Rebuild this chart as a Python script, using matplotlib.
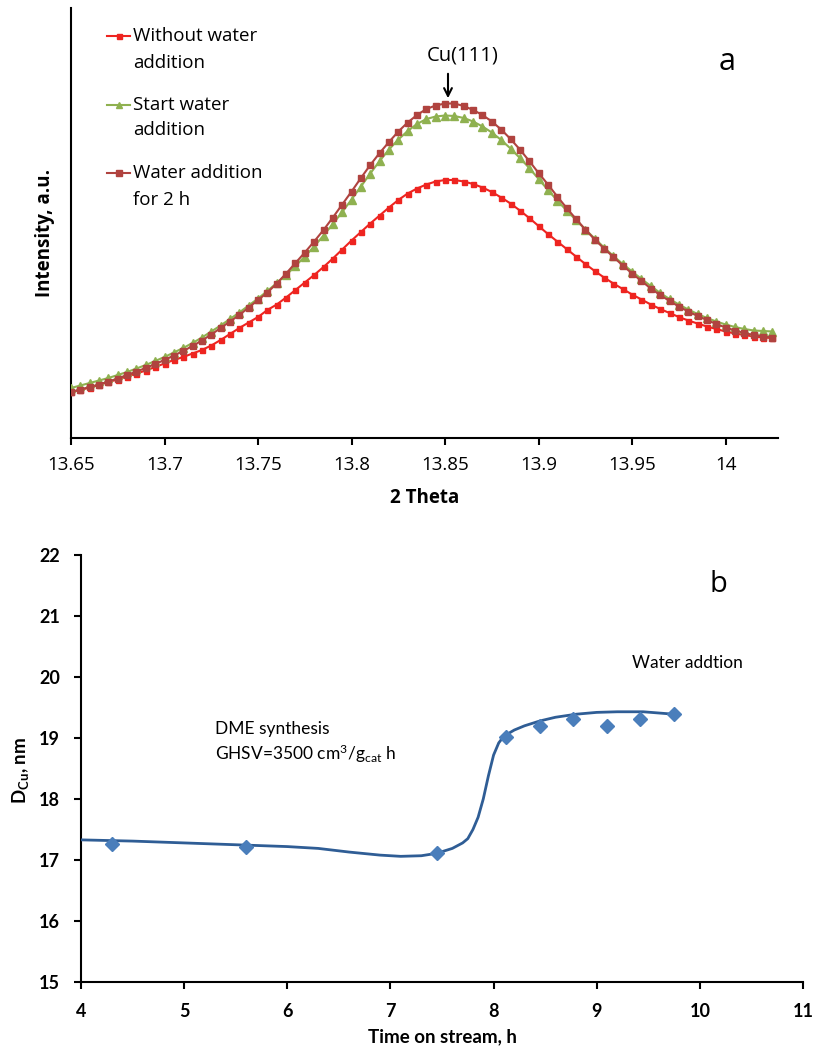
import matplotlib
matplotlib.use("Agg")
import matplotlib.pyplot as plt
from matplotlib.lines import Line2D
import numpy as np

# ---------------- data: panel a ----------------
two_theta = np.round(13.65 + 0.005 * np.arange(76), 3)

without_water = [46, 48, 50.5, 53, 56, 58.5, 61.5, 64.5, 67.5, 71,
                 74.5, 78, 81, 84.5, 88, 92.5, 98, 104, 110, 115.5,
                 121, 128, 133.5, 140.5, 148, 155.5, 163, 171, 179.5, 188.5,
                 197.5, 206, 214.5, 222.5, 230.5, 238, 244.5, 249.5, 253.5, 256.5,
                 258, 258, 256.5, 254, 250.5, 246, 240.5, 234.5, 227.5, 220,
                 212, 204, 196.5, 189, 181.5, 174, 167, 160.5, 154.5, 149,
                 143.5, 138.5, 133.5, 129, 125, 121, 117.5, 114.5, 111.5, 109,
                 106.5, 104.5, 103, 101.5, 100.5, 100]

start_water = [50, 52.5, 55, 57.5, 60, 63, 66, 69.5, 73, 77,
               81, 85.5, 90, 95, 100.5, 106.5, 112.5, 119, 125.5, 132.5,
               139.5, 147, 155, 163, 172, 181.5, 191.5, 202.5, 214, 226,
               238.5, 251.5, 264.5, 277, 288.5, 298.5, 307, 314, 319, 321.5,
               322.5, 322, 320, 316.5, 311.5, 305.5, 298, 289.5, 280, 270,
               259, 248, 237.5, 227.5, 218, 208.5, 199.5, 190.5, 182, 174,
               166.5, 159, 152, 145, 139, 133.5, 128.5, 124, 120, 116.5,
               113.5, 111, 109, 107.5, 107, 106.5]

water_2h = [46, 48.5, 51, 53.5, 56.5, 59.5, 63, 66.5, 70, 74,
            78, 82.5, 87, 92, 97.5, 103.5, 110, 116.5, 123, 130.5,
            138, 145.5, 154.5, 164.5, 175, 185.5, 196.5, 208, 220.5, 233.5,
            246.5, 260, 273, 285, 296, 306.5, 315.5, 323, 329, 332.5,
            334.5, 334.5, 332, 328, 323, 316.5, 308.5, 299, 288.5, 277,
            265, 253.5, 241.5, 230, 219, 208.5, 198.5, 189.5, 181, 172.5,
            164.5, 157, 149.5, 143, 137, 131.5, 126.5, 122, 118, 114,
            110.5, 107.5, 105, 103, 101.5, 100.5]

series_labels = [["Without water", "addition"],
                 ["Start water", "addition"],
                 ["Water addition", "for 2 h"]]

xticks_a = [13.65, 13.7, 13.75, 13.8, 13.85, 13.9, 13.95, 14.0]
xticklabels_a = ["13.65", "13.7", "13.75", "13.8", "13.85", "13.9", "13.95", "14"]

# ---------------- data: panel b ----------------
time_points = [4.3, 5.6, 7.45, 8.12, 8.45, 8.77, 9.1, 9.42, 9.75]
dcu_points = [17.27, 17.21, 17.12, 19.02, 19.19, 19.31, 19.20, 19.31, 19.39]

curve_time = [4.0, 4.5, 5.0, 5.5, 6.0, 6.3, 6.6, 6.9, 7.1, 7.3, 7.45, 7.6, 7.7,
              7.75, 7.8, 7.85, 7.9, 7.95, 8.0, 8.05, 8.1, 8.2, 8.3, 8.45, 8.6,
              8.8, 9.0, 9.2, 9.45, 9.75]
curve_dcu = [17.33, 17.31, 17.28, 17.25, 17.22, 17.19, 17.13, 17.08, 17.06, 17.07,
             17.11, 17.19, 17.28, 17.35, 17.5, 17.7, 18.0, 18.38, 18.72, 18.92,
             19.03, 19.13, 19.2, 19.28, 19.34, 19.39, 19.42, 19.43, 19.43, 19.39]

xticks_b = [4, 5, 6, 7, 8, 9, 10, 11]
yticks_b = [15, 16, 17, 18, 19, 20, 21, 22]

# ---------------- styling ----------------
plt.rcParams['font.family'] = ['Open Sans', 'DejaVu Sans']
plt.rcParams['mathtext.fontset'] = 'custom'
plt.rcParams['mathtext.rm'] = 'Lato'
plt.rcParams['mathtext.it'] = 'Lato:italic'
plt.rcParams['mathtext.bf'] = 'Lato:bold'

W, H = 816, 1052
fig = plt.figure(figsize=(W / 100, H / 100), dpi=100)


def fx(px):
    return px / W


def fy(py):
    return 1 - py / H


c_red = '#ee2420'
c_green = '#8fb150'
c_dred = '#b0433f'

# ---------------- panel a ----------------
ax1 = fig.add_axes([fx(71), fy(438), fx(778) - fx(71), fy(8) - fy(438)])
ax1.plot(two_theta, without_water, color=c_red, lw=1.5, marker='s', ms=3.6,
         mec=c_red, mfc=c_red, zorder=3)
ax1.plot(two_theta, start_water, color=c_green, lw=1.5, marker='^', ms=5.2,
         mec=c_green, mfc=c_green, zorder=4)
ax1.plot(two_theta, water_2h, color=c_dred, lw=1.5, marker='s', ms=5.0,
         mec=c_dred, mfc=c_dred, zorder=5)
ax1.set_xlim(13.65, 14.028)
ax1.set_ylim(0, 430)
for s in ['top', 'right']:
    ax1.spines[s].set_visible(False)
for s in ['left', 'bottom']:
    ax1.spines[s].set_linewidth(1.5)
ax1.set_yticks([])
ax1.set_xticks(xticks_a)
ax1.set_xticklabels(xticklabels_a)
ax1.tick_params(axis='x', direction='out', length=5, width=1.5, pad=8,
                labelsize=13.5)
ax1.set_xlabel("2 Theta", fontsize=13.5, fontweight='bold', labelpad=10)
ax1.set_ylabel("Intensity, a.u.", fontsize=13.5, fontweight='bold')
ax1.yaxis.set_label_coords(-0.022, 0.477)

# legend (manual)
leg = [(c_red, 's', 3.6, 36, 63), (c_green, '^', 5.0, 105, 130),
       (c_dred, 's', 4.8, 173, 200)]
for (col, mk, ms, y1, y2), lab in zip(leg, series_labels):
    fig.add_artist(Line2D([fx(107), fx(118.5), fx(130)], [fy(y1)] * 3,
                          transform=fig.transFigure, color=col, lw=1.5,
                          marker=mk, ms=ms, markevery=[1], mfc=col, mec=col))
    fig.text(fx(133), fy(y1), lab[0], ha='left', va='center', fontsize=13.5)
    fig.text(fx(133), fy(y2), lab[1], ha='left', va='center', fontsize=13.5)

fig.text(fx(463), fy(55), "Cu(111)", ha='center', va='center', fontsize=14.5)
ax1.annotate('', xy=(fx(448), fy(101)), xycoords='figure fraction',
             xytext=(fx(448), fy(71)), textcoords='figure fraction',
             arrowprops=dict(arrowstyle='->', color='black', lw=1.5,
                             mutation_scale=14))
fig.text(fx(727), fy(62), "a", ha='center', va='center', fontsize=22)

# ---------------- panel b ----------------
ax2 = fig.add_axes([fx(81), fy(982), fx(803) - fx(81), fy(555) - fy(982)])
ax2.plot(curve_time, curve_dcu, color='#2f5d95', lw=2.0, zorder=3)
ax2.plot(time_points, dcu_points, linestyle='none', marker='D', ms=7,
         mfc='#4a7ebb', mec='#4a7ebb', zorder=4)
ax2.set_xlim(4, 11)
ax2.set_ylim(15, 22)
for s in ['top', 'right']:
    ax2.spines[s].set_visible(False)
for s in ['left', 'bottom']:
    ax2.spines[s].set_linewidth(1.5)
ax2.set_xticks(xticks_b)
ax2.set_yticks(yticks_b)
ax2.tick_params(axis='both', direction='out', length=5, width=1.5,
                labelsize=13)
ax2.tick_params(axis='x', pad=10)
ax2.tick_params(axis='y', pad=10)
for lab in ax2.get_xticklabels() + ax2.get_yticklabels():
    lab.set_fontfamily('Lato')
    lab.set_fontweight('bold')
ax2.set_xlabel("Time on stream, h", fontsize=13.5, fontweight='bold',
               fontfamily='Lato', labelpad=6)
ax2.set_ylabel(r"$\mathbf{D_{Cu}}$, nm", fontsize=13.5, fontweight='bold',
               fontfamily='Lato')
ax2.yaxis.set_label_coords(-0.069, 0.496)

fig.text(fx(215), fy(729), "DME synthesis", ha='left', va='center',
         fontsize=12.5, fontfamily='Lato')
fig.text(fx(215), fy(754), r"GHSV=3500 cm$^{3}$/g$_{\mathrm{cat}}$ h",
         ha='left', va='center', fontsize=12.5, fontfamily='Lato')
fig.text(fx(632), fy(663), "Water addtion", ha='left', va='center',
         fontsize=12.5, fontfamily='Lato')
fig.text(fx(718), fy(585), "b", ha='center', va='center', fontsize=21)

fig.savefig("out.png", dpi=100)
